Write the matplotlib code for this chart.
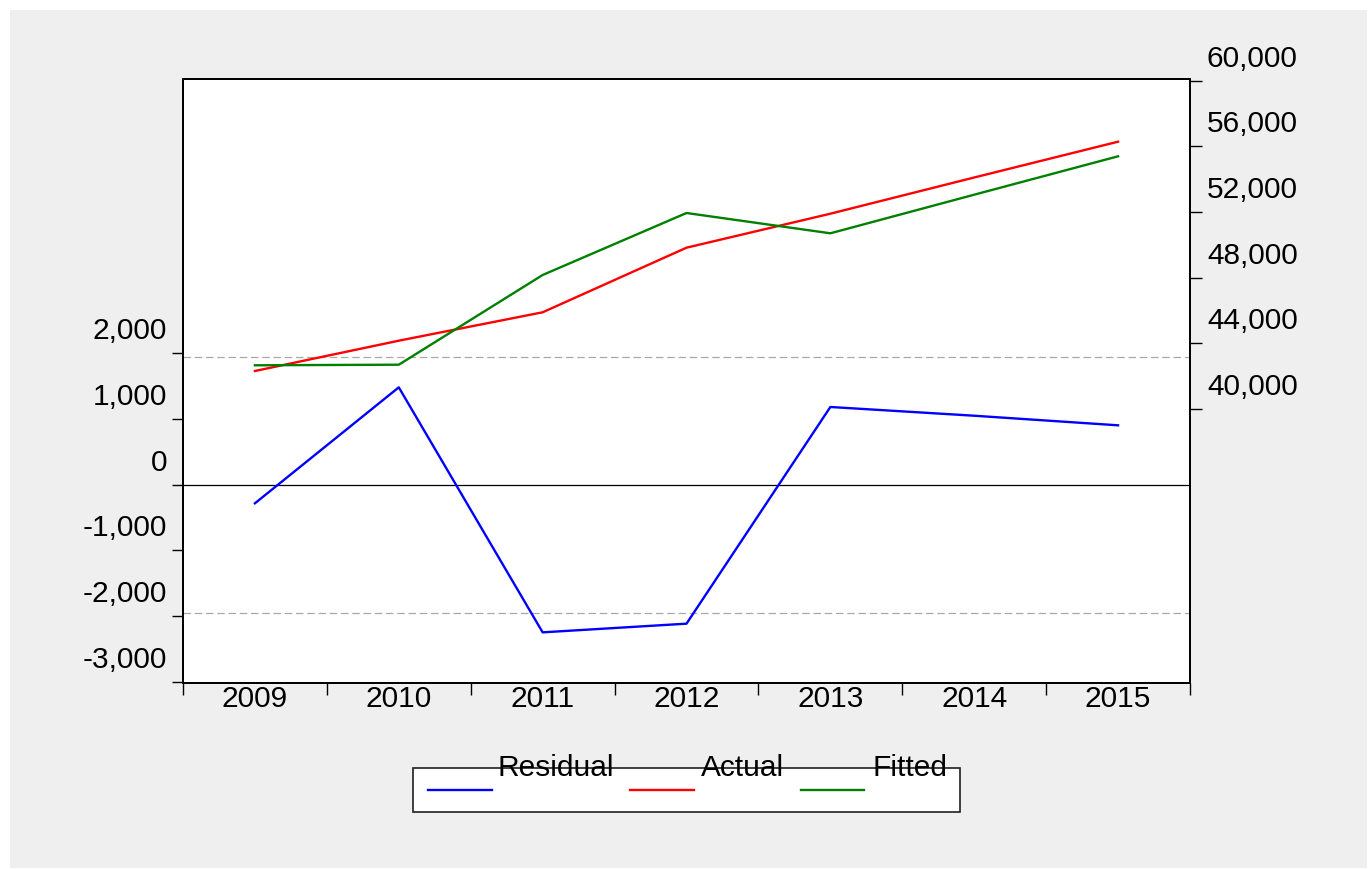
import matplotlib.pyplot as plt
from matplotlib.patches import Rectangle
from matplotlib.lines import Line2D

plt.rcParams['font.family'] = ['Liberation Sans', 'DejaVu Sans']

# data
years = [2009, 2010, 2011, 2012, 2013, 2014, 2015]
residual = [-283, 1482, -2247, -2115, 1183, 1050, 904]
actual = [42299, 44147, 45879, 49818, 51891, 54099, 56282]
fitted = [42647, 42683, 48153, 51934, 50696, 53050, 55391]
se_band = 1950  # +/- S.E. of regression (dashed lines)

left_ticks = [-3000, -2000, -1000, 0, 1000, 2000]
right_ticks = [40000, 44000, 48000, 52000, 56000, 60000]
legend_names = ['Residual', 'Actual', 'Fitted']
colors = ['#0000ff', '#ff0000', '#008000']

W, H = 1370, 870
FS = 21.5
LW = 1.7

fig = plt.figure(figsize=(W / 100, H / 100), dpi=100, facecolor='white')
# grey frame like EViews
fig.patches.append(Rectangle((10 / W, 1 - 869 / H), 1357 / W, 858 / H,
                             transform=fig.transFigure, facecolor='#efefef',
                             edgecolor='none', zorder=-10))

ax = fig.add_axes([183 / W, 1 - 684 / H, 1007 / W, 604 / H])
ax2 = ax.twinx()

# residual on left axis
ax.axhline(0, color='black', lw=0.9)
for s in (se_band, -se_band):
    ax.axhline(s, color='#a8a8a8', lw=0.9, ls=(0, (6, 3)))
ax.plot(years, residual, color=colors[0], lw=LW)

# actual / fitted on right axis
ax2.plot(years, actual, color=colors[1], lw=LW)
ax2.plot(years, fitted, color=colors[2], lw=LW)

ax.set_xlim(2008.5, 2015.5)
ax.set_ylim(-3018, 6175)
ax2.set_ylim(23273, 60105)

ax.set_xticks(years)
ax.set_xticklabels([str(y) for y in years], fontsize=FS)
ax.set_xticks([y - 0.5 for y in years] + [years[-1] + 0.5], minor=True)
ax.tick_params(axis='x', which='major', length=0, pad=1)
ax.tick_params(axis='x', which='minor', length=8.6, width=1, direction='out')

ax.set_yticks(left_ticks)
ax.set_yticklabels([])
ax.tick_params(axis='y', length=8, width=1)
ax2.set_yticks(right_ticks)
ax2.set_yticklabels([])
ax2.tick_params(axis='y', length=8.6, width=1)

# EViews puts the tick labels just above the tick marks
for v in left_ticks:
    ax.annotate(f'{v:,}', xy=(0, v), xycoords=('axes fraction', 'data'),
                xytext=(-16, 23), textcoords='offset pixels',
                ha='right', va='center', fontsize=FS, annotation_clip=False)
for v in right_ticks:
    ax2.annotate(f'{v:,}', xy=(1, v), xycoords=('axes fraction', 'data'),
                 xytext=(17, 23), textcoords='offset pixels',
                 ha='left', va='center', fontsize=FS, annotation_clip=False)

for a in (ax, ax2):
    for sp in a.spines.values():
        sp.set_linewidth(1.3)

# legend box
fig.patches.append(Rectangle((413 / W, 1 - 813 / H), 547 / W, 44 / H,
                             transform=fig.transFigure, facecolor='white',
                             edgecolor='#202020', lw=1.2, zorder=1))
line_x = [(428, 492), (630, 694), (801, 864)]
text_x = [556, 742, 910]
for name, c, (x0, x1), tx in zip(legend_names, colors, line_x, text_x):
    fig.add_artist(Line2D([x0 / W, x1 / W], [1 - 791 / H, 1 - 791 / H],
                          transform=fig.transFigure, color=c, lw=LW, zorder=2))
    fig.text(tx / W, 1 - 768 / H, name, ha='center', va='center',
             fontsize=FS, zorder=3)

fig.savefig('out.png', dpi=100)
